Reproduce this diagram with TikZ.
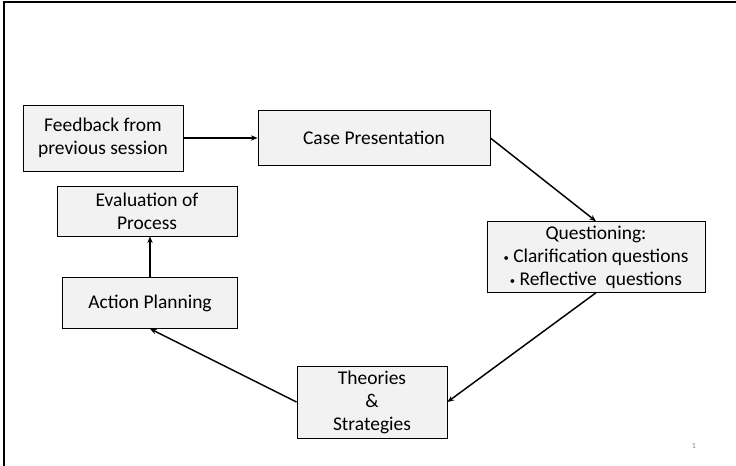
\documentclass[tikz,border=0pt]{standalone}
\usepackage{fontspec}
\setmainfont{Carlito}
\usetikzlibrary{arrows.meta}

\newcommand{\qbullet}{\raisebox{0.1ex}{\footnotesize\textbullet}}

\begin{document}
\begin{tikzpicture}[x=0.75pt, y=-0.75pt, line width=1.1pt, >={Stealth[length=5pt, width=4pt]},
        box/.style = {draw, line width=0.6pt, fill=black!5, align=center, inner sep=1pt,
                      font=\fontsize{14.6}{17.3}\selectfont}]
        \useasboundingbox (0,0) rectangle (736,466);
        \draw[line width=1.6pt] (4,467) -- (4,2) -- (737,2);
        \node[box, minimum width=120pt, minimum height=49.5pt] (fb) at (103,138) {Feedback from\\previous session};
        \node[box, minimum width=174pt, minimum height=41pt] (cp) at (374,138) {Case Presentation};
        \node[box, minimum width=163.5pt, minimum height=53pt] (q) at (596,257) {Questioning:\\\qbullet\ Clarification questions\\\qbullet\ Reflective\ \ questions};
        \node[box, minimum width=112.5pt, minimum height=54pt] (ts) at (372,402) {Theories\\\&\\Strategies};
        \node[box, minimum width=131pt, minimum height=38pt] (ap) at (150,303) {Action Planning};
        \node[box, minimum width=135pt, minimum height=37.5pt] (ev) at (147,211) {Evaluation of\\Process};
        \node[text=black!45, font=\fontsize{6}{7}\selectfont] (pg) at (694,446) {1};
        \draw[->] (fb) -- (cp);
        \draw[->] (cp.east) -- (q.north);
        \draw[->] (q.south) -- (ts.east);
        \draw[->] (ts.west) -- (ap.south);
        \draw[->] (ap.north) -- (ap.north |- ev.south);
    \end{tikzpicture}
\end{document}
